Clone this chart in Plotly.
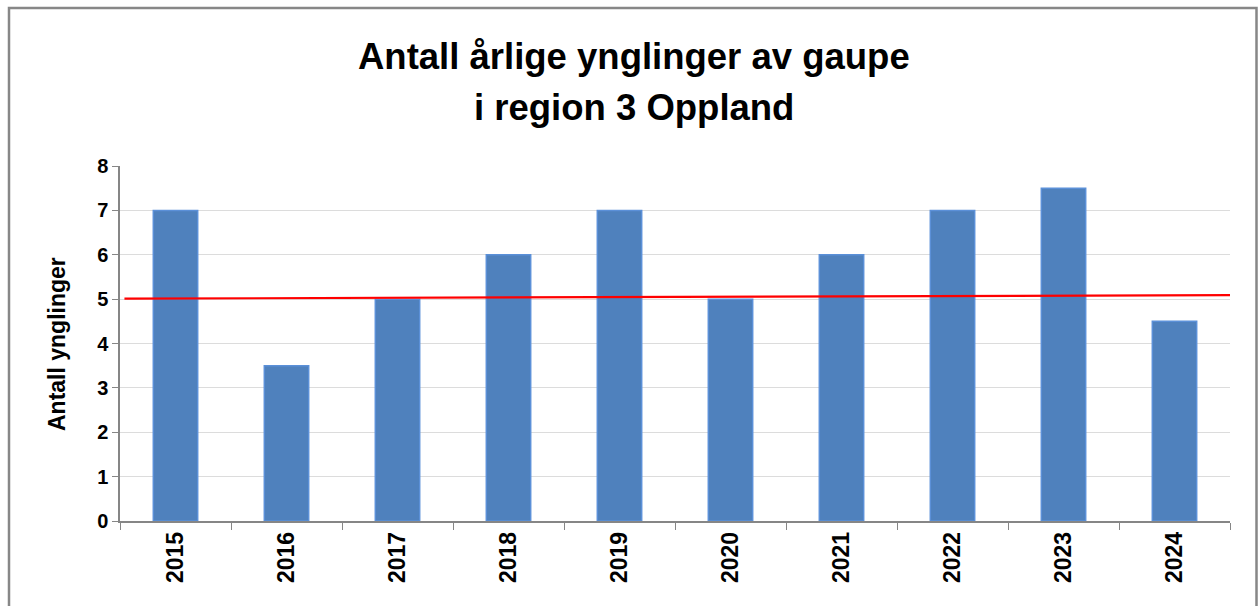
import plotly.graph_objects as go

years = ["2015", "2016", "2017", "2018", "2019", "2020", "2021", "2022", "2023", "2024"]
ynglinger = [7, 3.5, 5, 6, 7, 5, 6, 7, 7.5, 4.5]
trend_x = [-0.46, 9.56]
trend_y = [5.01, 5.09]
y_ticks = [0, 1, 2, 3, 4, 5, 6, 7, 8]
title_lines = ["Antall årlige ynglinger av gaupe", "i region 3 Oppland"]
y_title = "Antall ynglinger"

W, H = 1259, 606
PX0, PY0 = 120, 166   # plot area left / top in px
PX1, PY1 = 1230, 521  # plot area right / bottom in px
PW, PH = PX1 - PX0, PY1 - PY0


def px(xp):
    return (xp - PX0) / PW


def py(yp):
    return (PY1 - yp) / PH


fig = go.Figure()
fig.add_trace(go.Bar(
    x=years, y=ynglinger,
    marker=dict(color="#4F81BD", line=dict(color="#5B90D8", width=1.5)),
    showlegend=False, hoverinfo="x+y",
))
fig.add_trace(go.Scatter(
    x=trend_x, y=trend_y, xaxis="x2", mode="lines",
    line=dict(color="#FF0000", width=2.2), showlegend=False, cliponaxis=False,
))

font = "Liberation Sans"
fig.update_layout(
    width=W, height=H,
    margin=dict(l=PX0, r=W - PX1, t=PY0, b=H - PY1),
    paper_bgcolor="white", plot_bgcolor="white",
    bargap=0.6,
    xaxis=dict(
        type="category", tickson="boundaries", ticks="outside", ticklen=7,
        tickcolor="#868686", showline=True, linecolor="#868686", linewidth=1.5,
        tickangle=-90, showgrid=False,
        tickfont=dict(family=font, size=23, color="black", weight="bold"),
    ),
    xaxis2=dict(overlaying="x", range=[-0.5, 9.5], visible=False),
    yaxis=dict(
        range=[0, 8], tickvals=y_ticks, ticks="outside", ticklen=6,
        tickcolor="#868686", showline=True, linecolor="#868686", linewidth=1.5,
        showgrid=True, gridcolor="#DCDCDC", gridwidth=1.3, zeroline=False,
        tickfont=dict(family=font, size=20, color="black", weight="bold"),
    ),
    annotations=[
        dict(text="<b>%s</b>" % title_lines[0], xref="paper", yref="paper",
             x=px(634), y=py(57), xanchor="center", yanchor="middle", showarrow=False,
             font=dict(family=font, size=36.5, color="black")),
        dict(text="<b>%s</b>" % title_lines[1], xref="paper", yref="paper",
             x=px(634), y=py(107), xanchor="center", yanchor="middle", showarrow=False,
             font=dict(family=font, size=36.5, color="black")),
        dict(text="<b>%s</b>" % y_title, xref="paper", yref="paper", textangle=-90,
             x=px(57), y=py(344), xanchor="center", yanchor="middle", showarrow=False,
             font=dict(family=font, size=23, color="black")),
    ],
    shapes=[dict(
        type="rect", xref="paper", yref="paper",
        x0=px(9), x1=px(1256.5), y0=py(640), y1=py(8),
        line=dict(color="#878787", width=2.5), fillcolor="rgba(0,0,0,0)", layer="above",
    )],
)

fig.write_html(
    "out.html",
    config={"displayModeBar": False},
    post_script="document.body.style.margin='0';document.body.style.overflow='hidden';",
)
